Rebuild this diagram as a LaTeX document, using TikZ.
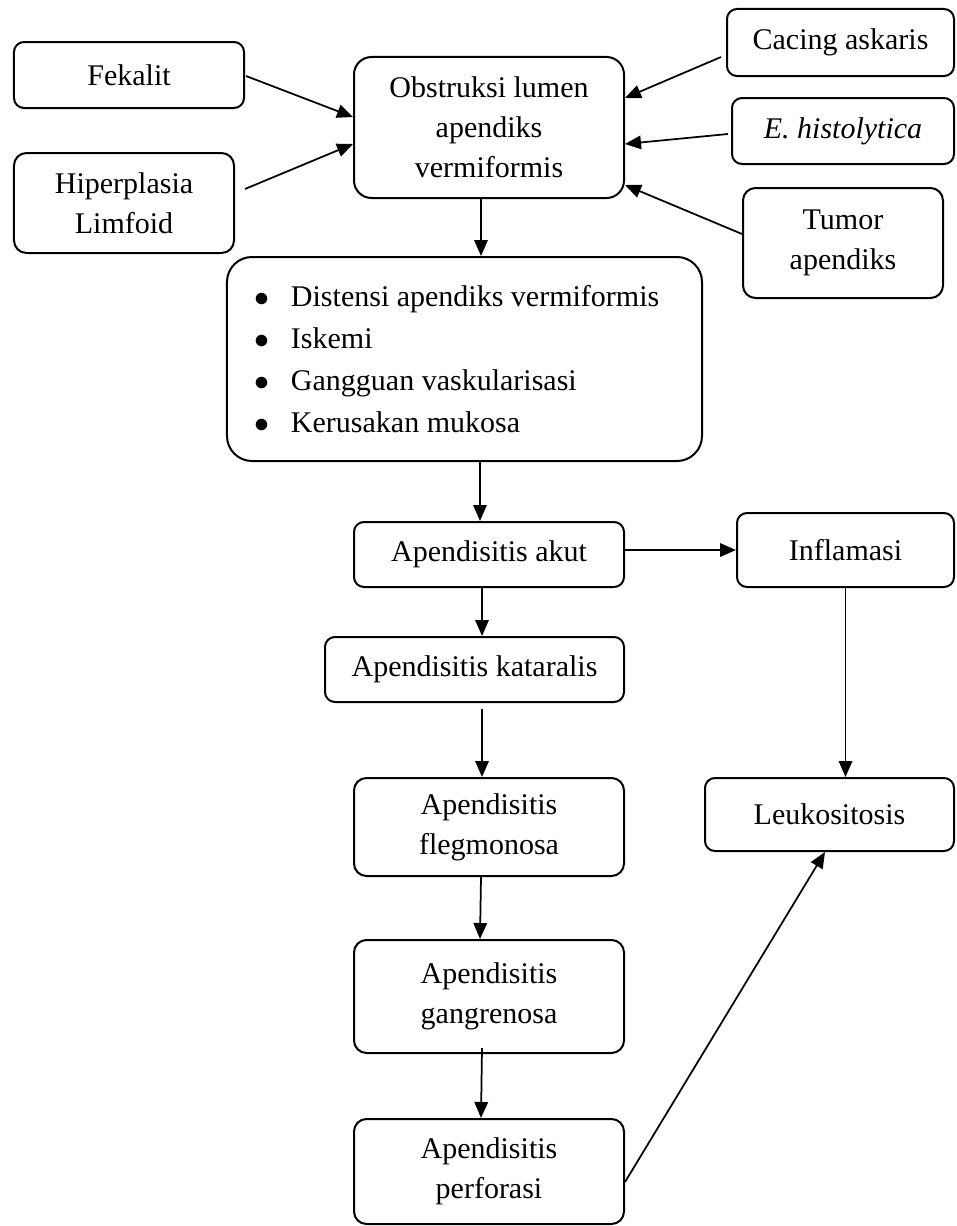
\documentclass[tikz,border=0pt]{standalone}
\usepackage{fontspec}
\setmainfont{Liberation Serif}
\usepackage{tikz}
\usetikzlibrary{calc,positioning,arrows.meta}
\newcommand{\butir}{\makebox[14.4pt][l]{$\bullet$}}

\begin{document}
\begin{tikzpicture}[x=0.4pt,y=-0.4pt,
    kotak/.style={draw,line width=0.8pt,rounded corners=5pt,align=center,inner sep=0pt,
      font=\fontsize{12}{16}\selectfont},
    kecil/.style={kotak,rounded corners=4pt},
    panah/.style={line width=0.7pt,-{Triangle[length=6.4pt,width=5.4pt]}}]
    \useasboundingbox (0,0) rectangle (956,1226);

    % penyebab obstruksi
    \node[kecil,minimum width=92pt,minimum height=26.4pt] (fekalit) at (129,75) {Fekalit};
    \node[kotak,minimum width=88pt,minimum height=40pt] (hiper) at (124,203) {Hiperplasia\\Limfoid};
    \node[kotak,rounded corners=7pt,minimum width=108pt,minimum height=56.4pt] (obstruksi) at (489,127.5)
      {Obstruksi lumen\\apendiks\\vermiformis};
    \node[kecil,minimum width=90.8pt,minimum height=26.8pt] (cacing) at (840.5,42.5) {Cacing askaris};
    \node[kecil,minimum width=88.8pt,minimum height=26.4pt] (histo) at (843,131) {\textit{E. histolytica}};
    \node[kotak,minimum width=80pt,minimum height=44pt] (tumor) at (843,243) {Tumor\\apendiks};

    \node[kotak,rounded corners=10pt,minimum width=190pt,minimum height=81.6pt,
      align=left,text width=167.6pt,inner xsep=11.2pt,font=\fontsize{12}{16.8}\selectfont] (akibat) at (464.5,359)
      {\spaceskip=3pt\relax\butir Distensi apendiks vermiformis\\\butir Iskemi\\\butir Gangguan vaskularisasi\\\butir Kerusakan mukosa};

    % jalur apendisitis
    \node[kecil,minimum width=108pt,minimum height=26pt] (akut) at (489,554.5) {Apendisitis akut};
    \node[kecil,minimum width=86.8pt,minimum height=29.6pt] (inflamasi) at (845.5,550) {Inflamasi};
    \node[kecil,minimum width=119.6pt,minimum height=26pt] (kataralis) at (474.5,669.5) {Apendisitis kataralis};
    \node[kotak,minimum width=108pt,minimum height=39.2pt] (flegmonosa) at (489,827) {Apendisitis\\flegmonosa};
    \node[kecil,minimum width=99.6pt,minimum height=29.2pt] (leuko) at (829.5,814.5) {Leukositosis};
    \node[kotak,minimum width=108pt,minimum height=45.2pt] (gangrenosa) at (489,996.5) {Apendisitis\\gangrenosa};
    \node[kotak,minimum width=108pt,minimum height=42pt] (perforasi) at (489,1171.5) {Apendisitis\\perforasi};

    \draw[panah] ($(fekalit.east)+(1,1)$) -- ($(obstruksi.west)+(0,-10.5)$);
    \draw[panah] ($(hiper.east)+(10,-14)$) -- ($(obstruksi.west)+(0,16.5)$);
    \draw[panah] ($(cacing.west)+(-5,14.5)$) -- ($(obstruksi.east)+(0,-29.5)$);
    \draw[panah] ($(histo.west)+(-3,3)$) -- ($(obstruksi.east)+(0,16.5)$);
    \draw[panah] ($(tumor.west)+(0,-9)$) -- ($(obstruksi.east)+(0,57.5)$);

    \draw[panah] ($(obstruksi.south)+(-8,0)$) -- ($(obstruksi.south |- akibat.north)+(-8,0)$);
    \draw[panah] ($(akut.north |- akibat.south)+(-9,0)$) -- ($(akut.north)+(-9,0)$);
    \draw[panah] ($(akut.east)+(0,-4.5)$) -- ($(inflamasi.west)+(0,0)$);
    \draw[panah] ($(akut.south)+(-7,0)$) -- ($(akut.south |- kataralis.north)+(-7,0)$);
    \draw[panah] ($(flegmonosa.north |- kataralis.south)+(-7,6)$) -- ($(flegmonosa.north)+(-7,0)$);
    \draw[panah] ($(flegmonosa.south)+(-8,0)$) -- ($(gangrenosa.north)+(-9,0)$);
    \draw[panah] ($(gangrenosa.south)+(-7,-6)$) -- ($(perforasi.north)+(-8,0)$);
    \draw[panah] (inflamasi.south) -- (inflamasi.south |- leuko.north);
    \draw[panah] ($(perforasi.east)+(0,10.5)$) -- ($(leuko.south)+(-4.5,0)$);
  \end{tikzpicture}
\end{document}
